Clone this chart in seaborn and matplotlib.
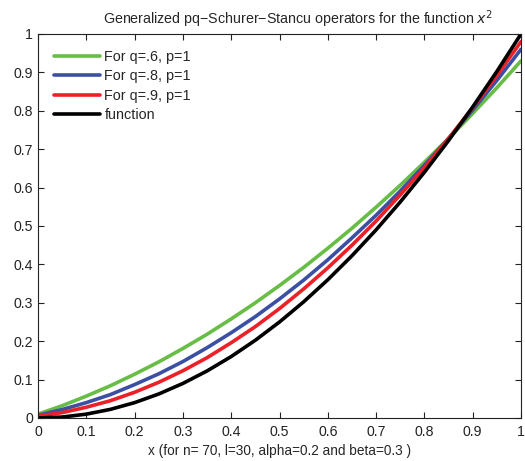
import numpy as np
import pandas as pd
import matplotlib
matplotlib.use("Agg")
import matplotlib.pyplot as plt
import seaborn as sns

# valori
x = [0, .05, .1, .15, .2, .25, .3, .35, .4, .45, .5, .55, .6, .65, .7, .75, .8, .85, .9, .95, 1]
q06 = [0.010, 0.032, 0.057, 0.084, 0.114, 0.146, 0.181, 0.218, 0.258, 0.300, 0.345,
       0.392, 0.442, 0.494, 0.549, 0.606, 0.666, 0.728, 0.793, 0.860, 0.930]
q08 = [0.007, 0.022, 0.040, 0.061, 0.087, 0.115, 0.147, 0.183, 0.222, 0.264, 0.310,
       0.359, 0.412, 0.469, 0.528, 0.591, 0.658, 0.728, 0.802, 0.879, 0.960]
q09 = [0.005, 0.014, 0.028, 0.045, 0.067, 0.093, 0.123, 0.157, 0.196, 0.238, 0.285,
       0.336, 0.391, 0.450, 0.513, 0.581, 0.652, 0.728, 0.808, 0.892, 0.980]
funz = [0, 0.0025, 0.01, 0.0225, 0.04, 0.0625, 0.09, 0.1225, 0.16, 0.2025, 0.25,
        0.3025, 0.36, 0.4225, 0.49, 0.5625, 0.64, 0.7225, 0.81, 0.9025, 1.0]
etichette = ["For q=.6, p=1", "For q=.8, p=1", "For q=.9, p=1", "function"]
colori = ["#67bd45", "#3b4fa3", "#ec2027", "#000000"]

df = pd.DataFrame({"x": x * 4,
                   "y": q06 + q08 + q09 + funz,
                   "serie": [e for e in etichette for _ in x]})

sns.set_style("ticks")
plt.rcParams["font.family"] = ["Liberation Sans", "DejaVu Sans"]
plt.rcParams["xtick.direction"] = "in"
plt.rcParams["ytick.direction"] = "in"

fig = plt.figure(figsize=(5.25, 4.61), dpi=100)
ax = fig.add_axes([0.0724, 0.0933, 0.92, 0.833])

sns.lineplot(data=df, x="x", y="y", hue="serie", palette=colori, linewidth=2.6, ax=ax)

ax.set_xlim(0, 1)
ax.set_ylim(0, 1)
ax.set_xticks(np.arange(0, 1.01, 0.1))
ax.set_yticks(np.arange(0, 1.01, 0.1))
ax.set_xticklabels(["0", "0.1", "0.2", "0.3", "0.4", "0.5", "0.6", "0.7", "0.8", "0.9", "1"])
ax.set_yticklabels(["0", "0.1", "0.2", "0.3", "0.4", "0.5", "0.6", "0.7", "0.8", "0.9", "1"])
ax.tick_params(top=True, right=True, labelsize=10.2, length=4, width=0.8, colors="#222222")
ax.tick_params(axis="x", pad=5)
for s in ax.spines.values():
    s.set_linewidth(0.8)
    s.set_color("#222222")

ax.set_xlabel("x (for n= 70, l=30, alpha=0.2 and beta=0.3 )", fontsize=9.8, labelpad=4)
ax.set_ylabel("")
ax.set_title("Generalized pq\u2212Schurer\u2212Stancu operators for the function $x^2$",
             fontsize=10.3, x=0.538, pad=7)

ax.legend(loc="upper left", frameon=False, fontsize=10.4, handlelength=3.2,
          handletextpad=0.3, labelspacing=0.38, borderaxespad=0.7)

fig.savefig("out.png", dpi=100)
